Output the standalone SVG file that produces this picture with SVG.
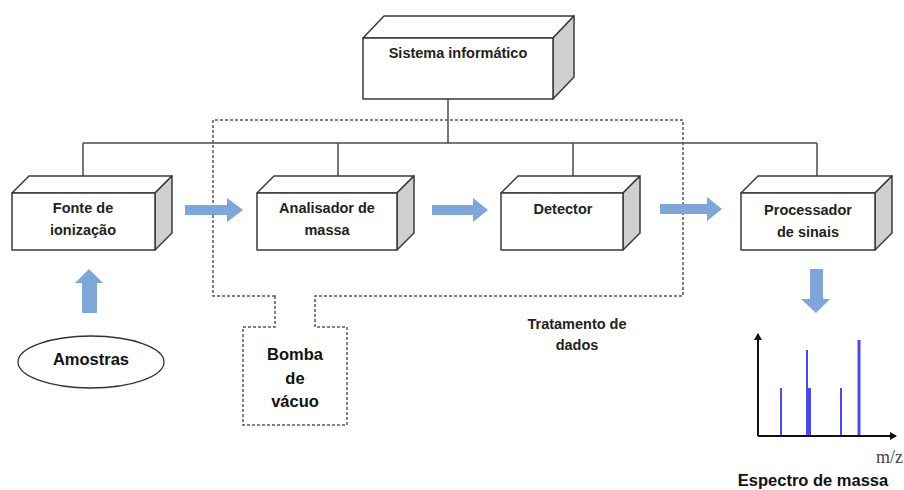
<svg xmlns="http://www.w3.org/2000/svg" width="904" height="490" viewBox="0 0 904 490">
<defs>
<style>
.front{fill:#fff;stroke:#3a3a3a;stroke-width:1.5;stroke-linejoin:round}
.top{fill:#fff;stroke:#3a3a3a;stroke-width:1.5;stroke-linejoin:round}
.side{fill:#cfcfcf;stroke:#3a3a3a;stroke-width:1.5;stroke-linejoin:round}
.lbl{font-family:"Liberation Sans",Arial,sans-serif;font-weight:bold;font-size:14.5px;fill:#222;text-anchor:middle}
.big{font-family:"Liberation Sans",Arial,sans-serif;font-weight:bold;font-size:16.5px;fill:#111;text-anchor:middle}
.conn{stroke:#4a4a4a;stroke-width:1.5;fill:none}
.dash{stroke:#555;stroke-width:1.5;fill:none;stroke-dasharray:3 2}
.blue{fill:#7ea6d9}
.peak{stroke:#4b4be6;fill:none}
</style>
<marker id="ah" markerWidth="8" markerHeight="8" refX="6" refY="4" orient="auto" markerUnits="userSpaceOnUse">
<path d="M0,0 L7,4 L0,8 z" fill="#111"/>
</marker>
</defs>

<g id="connectors">
<line class="conn" x1="448" y1="99" x2="448" y2="143"/>
<line class="conn" x1="83" y1="143" x2="817" y2="143"/>
<line class="conn" x1="83" y1="143" x2="83" y2="176"/>
<line class="conn" x1="338" y1="143" x2="338" y2="176"/>
<line class="conn" x1="573" y1="143" x2="573" y2="176"/>
<line class="conn" x1="817" y1="143" x2="817" y2="176"/>
</g>

<g id="vacuum-region">
<path class="dash" d="M275,296 L213,296 L213,120 L683,120 L683,296 L315,296 L315,327 L347,327 L347,425 L243,425 L243,327 L275,327 Z"/>
</g>

<g id="sistema">
<polygon class="top" points="363,38 384,16 574,16 553,38"/>
<polygon class="side" points="553,38 574,16 574,77 553,99"/>
<rect class="front" x="363" y="38" width="190" height="61"/>
<text class="lbl" x="458" y="58">Sistema informático</text>
</g>

<g id="fonte">
<polygon class="top" points="12,193 29,176 172,176 155,193"/>
<polygon class="side" points="155,193 172,176 172,233 155,250"/>
<rect class="front" x="12" y="193" width="143" height="57"/>
<text class="lbl" x="83" y="213">Fonte de</text>
<text class="lbl" x="83" y="235">ionização</text>
</g>

<g id="analisador">
<polygon class="top" points="257,193 274,176 414,176 397,193"/>
<polygon class="side" points="397,193 414,176 414,233 397,250"/>
<rect class="front" x="257" y="193" width="140" height="57"/>
<text class="lbl" x="327" y="213">Analisador de</text>
<text class="lbl" x="327" y="235">massa</text>
</g>

<g id="detector">
<polygon class="top" points="501,193 518,176 640,176 623,193"/>
<polygon class="side" points="623,193 640,176 640,233 623,250"/>
<rect class="front" x="501" y="193" width="122" height="57"/>
<text class="lbl" x="563" y="214">Detector</text>
</g>

<g id="processador">
<polygon class="top" points="741,193 758,176 892,176 875,193"/>
<polygon class="side" points="875,193 892,176 892,233 875,250"/>
<rect class="front" x="741" y="193" width="134" height="57"/>
<text class="lbl" x="808" y="215">Processador</text>
<text class="lbl" x="808" y="237">de sinais</text>
</g>

<g id="arrows">
<polygon class="blue" points="185,205 227,205 227,198 243,210 227,222 227,215 185,215"/>
<polygon class="blue" points="432,205 473,205 473,198 488,210 473,222 473,215 432,215"/>
<polygon class="blue" points="660,204 707,204 707,197 722,209 707,221 707,214 660,214"/>
<polygon class="blue" points="82,313 82,283 75,283 89,269 103,283 97,283 97,313"/>
<polygon class="blue" points="810,269 823,269 823,299 830,299 816,313 801,299 810,299"/>
</g>

<g id="amostras">
<ellipse cx="91" cy="362" rx="73" ry="26" fill="#fff" stroke="#333" stroke-width="1.3"/>
<text class="big" x="91" y="365">Amostras</text>
</g>

<g id="bomba">
<text class="big" x="295" y="360">Bomba</text>
<text class="big" x="295" y="384">de</text>
<text class="big" x="295" y="407">vácuo</text>
</g>

<g id="tratamento">
<text class="lbl" x="577" y="329">Tratamento de</text>
<text class="lbl" x="577" y="350">dados</text>
</g>

<g id="espectro">
<line x1="758" y1="436" x2="758" y2="334" stroke="#111" stroke-width="2" marker-end="url(#ah)"/>
<line x1="758" y1="436" x2="896" y2="436" stroke="#111" stroke-width="2" marker-end="url(#ah)"/>
<line class="peak" x1="781" y1="435" x2="781" y2="388" stroke-width="2"/>
<line class="peak" x1="807" y1="435" x2="807" y2="350" stroke-width="2"/>
<line class="peak" x1="809.5" y1="435" x2="809.5" y2="388" stroke-width="3"/>
<line class="peak" x1="841" y1="435" x2="841" y2="388" stroke-width="2"/>
<line class="peak" x1="859" y1="435" x2="859" y2="340" stroke-width="3"/>
<text x="876" y="463" font-family="Liberation Serif,serif" font-size="18" fill="#444">m/z</text>
<text class="big" x="813" y="486">Espectro de massa</text>
</g>
</svg>
